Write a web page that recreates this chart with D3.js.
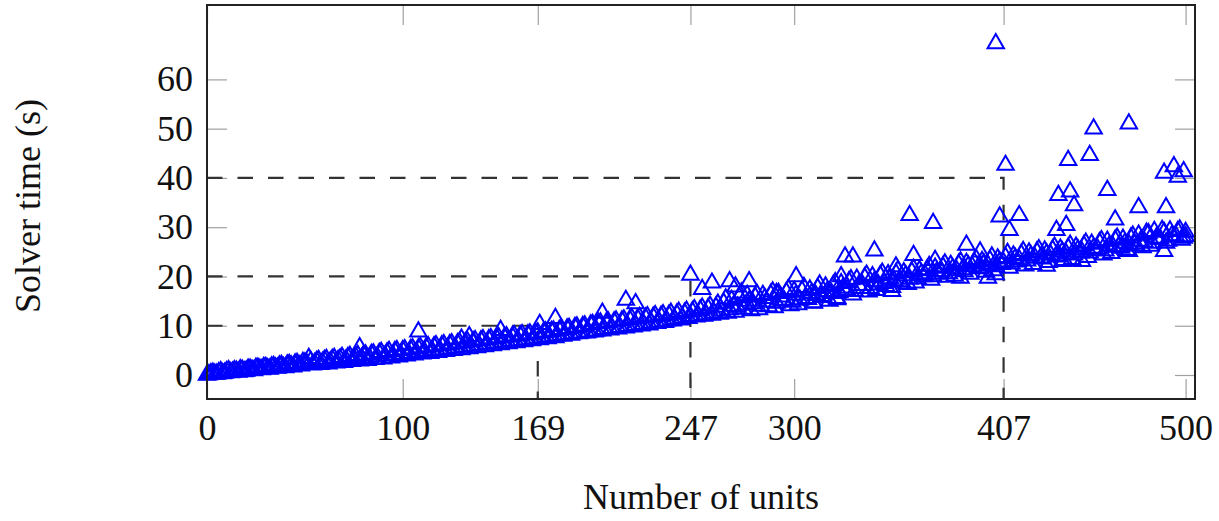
<!DOCTYPE html>
<html>
<head>
<meta charset="utf-8">
<script src="https://cdn.jsdelivr.net/npm/d3@7"></script>
<style>
  html, body { margin: 0; padding: 0; background: #fff; }
  svg { display: block; font-family: "Liberation Serif", "DejaVu Serif", serif; }
</style>
</head>
<body>
<div id="chart"></div>
<script>
// [number of units, solver time in s] — the dense main band, even sizes
const bandRuns = [
  [0,0.0],[1,0.1],[2,0.3],[4,0.2],[6,0.5],[8,0.3],[10,0.7],[12,0.5],[14,0.9],[16,0.6],[18,1.0],[20,0.8],
  [22,1.2],[24,0.9],[26,1.4],[28,1.1],[30,1.6],[32,1.2],[34,1.8],[36,1.4],[38,2.0],[40,1.5],
  [42,2.2],[44,1.7],[46,2.4],[48,1.9],[50,2.5],[52,3.4],[54,2.1],[56,2.8],[58,2.2],[60,3.0],
  [62,2.3],[64,3.2],[66,2.5],[68,3.3],[70,2.6],[72,3.6],[74,2.8],[76,3.7],[78,2.9],[80,4.0],
  [82,3.0],[84,4.2],[86,3.2],[88,4.4],[90,3.3],[92,4.5],[94,3.5],[96,4.8],[98,3.7],[100,5.0],
  [102,3.9],[104,5.2],[106,4.1],[108,5.4],[110,4.3],[112,5.6],[114,4.4],[116,5.8],[118,4.6],[120,6.0],
  [122,4.8],[124,6.2],[126,5.0],[128,6.4],[130,5.2],[132,6.6],[134,5.4],[136,6.8],[138,5.6],[140,7.0],
  [142,5.8],[144,7.2],[146,6.0],[148,7.4],[150,6.2],[152,7.6],[154,6.4],[156,7.8],[158,6.6],[160,8.0],
  [162,6.8],[164,8.2],[166,7.0],[168,8.5],[170,7.2],[172,8.7],[174,7.4],[176,8.9],[178,7.6],[180,9.1],
  [182,7.9],[184,9.4],[186,8.1],[188,9.7],[190,8.4],[192,9.9],[194,8.6],[196,10.2],[198,8.8],[200,10.5],
  [202,9.0],[204,10.6],[206,9.2],[208,10.8],[210,9.4],[212,11.0],[214,9.6],[216,11.2],[218,9.8],[220,11.4],
  [222,10.0],[224,11.6],[226,10.2],[228,11.8],[230,10.5],[232,12.0],[234,10.7],[236,12.2],[238,11.0],[240,12.4],
  [242,11.2],[244,12.6],[246,11.5],[248,12.9],[250,11.8],[252,13.2],[254,12.0],[256,13.5],[258,12.2],[260,13.8],
  [262,12.4],[264,14.6],[266,12.6],[268,15.2],[270,12.8],[272,15.8],[274,13.4],[276,16.2],[278,13.1],[280,15.9],
  [282,13.3],[284,16.2],[286,14.8],[288,16.4],[290,13.7],[292,16.6],[294,15.2],[296,16.8],[298,14.1],[300,17.0],
  [302,14.3],[304,17.1],[306,15.6],[308,17.3],[310,14.6],[312,17.6],[314,16.0],[316,17.9],[318,15.0],[320,18.2],
  [322,15.6],[324,18.6],[326,17.0],[328,19.0],[330,16.3],[332,19.5],[334,17.6],[336,19.8],[338,16.9],[340,20.0],
  [342,17.2],[344,20.2],[346,18.6],[348,20.4],[350,17.8],[352,20.6],[354,19.0],[356,20.8],[358,18.4],[360,21.0],
  [362,18.7],[364,21.2],[366,20.0],[368,21.4],[370,19.3],[372,21.7],[374,20.5],[376,22.0],[378,19.9],[380,22.3],
  [382,20.1],[384,22.5],[386,21.4],[388,22.7],[390,20.5],[392,22.9],[394,21.8],[396,23.1],[398,20.9],[400,23.3],
  [402,21.2],[404,23.6],[406,22.5],[408,23.9],[410,21.7],[412,24.2],[414,23.0],[416,24.5],[418,22.2],[420,24.8],
  [422,22.5],[424,25.0],[426,23.8],[428,25.2],[430,22.9],[432,25.4],[434,24.2],[436,25.6],[438,23.3],[440,25.8],
  [442,23.5],[444,26.0],[446,24.8],[448,26.3],[450,23.9],[452,26.6],[454,25.3],[456,26.9],[458,24.4],[460,27.2],
  [462,24.7],[464,27.4],[466,26.1],[468,27.6],[470,25.3],[472,27.8],[474,26.6],[476,28.4],[478,25.9],[480,28.8],
  [482,26.2],[484,29.2],[486,27.6],[488,29.4],[490,26.8],[492,29.3],[494,28.0],[496,29.2],[498,27.4],[500,29.0]
];

// odd sizes, same band
const bandRunsOdd = [
  [3,0.4],[5,0.2],[7,0.7],[9,0.4],[11,0.9],[13,0.6],[15,0.8],[17,1.1],[19,0.7],[21,1.2],
  [23,1.0],[25,1.4],[27,1.2],[29,1.6],[31,1.3],[33,1.7],[35,1.5],[37,1.9],[39,1.6],[41,2.1],
  [43,1.9],[45,2.3],[47,2.0],[49,2.6],[51,2.3],[53,2.8],[55,2.4],[57,3.0],[59,2.6],[61,3.2],
  [63,2.7],[65,3.4],[67,3.0],[69,3.6],[71,3.1],[73,3.8],[75,3.2],[77,4.0],[79,3.4],[81,4.1],
  [83,3.5],[85,4.3],[87,3.7],[89,4.6],[91,3.9],[93,4.8],[95,4.0],[97,5.0],[99,4.2],[101,5.2],
  [103,4.4],[105,5.4],[107,4.6],[109,5.6],[111,4.8],[113,5.8],[115,5.0],[117,6.0],[119,5.1],[121,6.2],
  [123,5.3],[125,6.4],[127,5.5],[129,6.6],[131,5.7],[133,6.8],[135,5.9],[137,7.0],[139,6.1],[141,7.2],
  [143,6.3],[145,7.4],[147,6.5],[149,7.6],[151,6.7],[153,7.8],[155,6.9],[157,8.0],[159,7.0],[161,8.2],
  [163,7.2],[165,8.4],[167,7.4],[169,8.6],[171,7.6],[173,8.8],[175,7.8],[177,9.0],[179,8.0],[181,9.3],
  [183,8.2],[185,9.5],[187,8.4],[189,9.8],[191,8.6],[193,10.0],[195,8.8],[197,10.3],[199,9.0],[201,10.6],
  [203,9.3],[205,10.8],[207,9.5],[209,11.0],[211,9.7],[213,11.2],[215,9.9],[217,11.5],[219,10.1],[221,11.7],
  [223,10.3],[225,11.9],[227,10.6],[229,12.1],[231,10.8],[233,12.3],[235,11.0],[237,12.6],[239,11.3],[241,12.8],
  [243,11.6],[245,13.0],[247,11.9],[249,13.3],[251,12.1],[253,13.6],[255,12.3],[257,14.0],[259,12.6],[261,14.4],
  [263,13.0],[265,15.5],[267,13.3],[269,14.0],[271,13.8],[273,16.7],[275,14.2],[277,15.0],[279,14.5],[281,16.4],
  [283,14.0],[285,15.6],[287,13.9],[289,16.9],[291,14.6],[293,15.9],[295,15.0],[297,17.4],[299,14.8],[301,16.3],
  [303,15.2],[305,17.8],[307,15.4],[309,16.6],[311,16.2],[313,18.3],[315,15.8],[317,17.0],[319,16.6],[321,18.8],
  [323,16.8],[325,17.7],[327,17.3],[329,19.4],[331,17.0],[333,18.2],[335,18.2],[337,20.3],[339,17.6],[341,19.0],
  [343,18.3],[345,20.7],[347,18.0],[349,19.6],[351,19.2],[353,21.2],[355,18.9],[357,20.2],[359,19.5],[361,21.5],
  [363,19.6],[365,20.6],[367,20.3],[369,22.1],[371,20.0],[373,21.0],[375,21.0],[377,22.6],[379,20.6],[381,21.6],
  [383,21.2],[385,23.0],[387,21.0],[389,22.2],[391,22.0],[393,23.5],[395,21.6],[397,22.6],[399,22.3],[401,24.0],
  [403,22.0],[405,23.0],[407,22.8],[409,24.7],[411,22.6],[413,23.7],[415,23.4],[417,25.1],[419,23.2],[421,24.2],
  [423,23.8],[425,25.5],[427,23.6],[429,24.6],[431,24.4],[433,26.0],[435,24.0],[437,25.0],[439,24.6],[441,26.4],
  [443,24.4],[445,25.4],[447,25.0],[449,26.8],[451,24.8],[453,25.8],[455,25.6],[457,27.3],[459,25.2],[461,26.2],
  [463,26.0],[465,27.8],[467,25.8],[469,26.8],[471,26.5],[473,28.2],[475,26.2],[477,27.2],[479,27.0],[481,28.7],
  [483,26.8],[485,27.8],[487,27.6],[489,29.0],[491,27.2],[493,28.3],[495,28.2],[497,29.5],[499,27.8]
];

// runs that stand out above / below the band
const outlierRuns = [
  [78,5.6],[108,8.8],[130,7.3],[134,7.8],[150,9.1],[170,10.3],[178,11.5],[202,12.6],[214,15.2],[219,14.5],
  [247,20.3],[253,17.4],[258,18.7],[267,19.0],[270,17.9],[277,19.0],[291,16.6],
  [301,20.0],[310,14.7],[322,15.3],[324,20.0],[326,24.0],[330,24.0],[341,25.2],[350,17.0],[352,22.0],
  [359,32.4],[361,24.3],[371,30.8],[372,23.3],[385,19.7],[388,26.4],[395,25.0],[399,19.7],
  [403,67.3],[403,20.4],[405,32.1],[408,42.6],[410,29.4],[415,32.4],
  [429,22.1],[434,29.4],[435,36.5],[437,23.1],[439,30.4],[440,43.6],[441,37.2],[443,34.4],[447,23.1],
  [451,44.6],[453,50.0],[460,37.5],[464,31.5],[471,51.0],[471,25.1],[476,34.0],
  [489,41.0],[489,25.1],[490,34.0],[494,42.3],[496,40.2],[499,41.3],[500,28.1]
];

const xTicks = [0, 100, 169, 247, 300, 407, 500];
const yTicks = [0, 10, 20, 30, 40, 50, 60];
// dashed guides: from the left axis to (units, seconds), then down to the x axis
const guides = [
  { units: 169, seconds: 10 },
  { units: 247, seconds: 20 },
  { units: 407, seconds: 40 }
];
const xTitle = "Number of units";
const yTitle = "Solver time (s)";

const W = 1219, H = 521;
const box = { left: 207, right: 1195, top: 5, bottom: 399 };
const fontSize = 36;

const x = d3.scaleLinear().domain([0, 504.8]).range([box.left, box.right]);
const y = d3.scaleLinear().domain([-4.87, 75.1]).range([box.bottom, box.top]);

const svg = d3.select("#chart").append("svg")
  .attr("width", W)
  .attr("height", H);

// ticks on all four sides, pointing inward
const tickLen = 20;
const styleTicks = (g) => {
  g.select(".domain").remove();
  g.selectAll(".tick line").attr("stroke", "#a0a0a0").attr("stroke-width", 1.2);
  g.selectAll(".tick text")
    .attr("fill", "#111")
    .style("font-size", fontSize + "px")
    .style("font-family", '"Liberation Serif", "DejaVu Serif", serif');
};

svg.append("g")
  .attr("transform", `translate(0,${box.bottom})`)
  .call(d3.axisBottom(x).tickValues(xTicks).tickSize(-tickLen).tickPadding(15).tickFormat(d3.format("d")))
  .call(styleTicks);

svg.append("g")
  .attr("transform", `translate(0,${box.top})`)
  .call(d3.axisTop(x).tickValues(xTicks).tickSize(-tickLen).tickFormat(""))
  .call(styleTicks);

svg.append("g")
  .attr("transform", `translate(${box.left},0)`)
  .call(d3.axisLeft(y).tickValues(yTicks).tickSize(-tickLen).tickPadding(14).tickFormat(d3.format("d")))
  .call(styleTicks);

svg.append("g")
  .attr("transform", `translate(${box.right},0)`)
  .call(d3.axisRight(y).tickValues(yTicks).tickSize(-tickLen).tickFormat(""))
  .call(styleTicks);

// dashed guide lines
const yMin = y.domain()[0];
const xMin = x.domain()[0];
const guideLine = d3.line().x(d => x(d[0])).y(d => y(d[1]));
svg.append("g")
  .selectAll("path")
  .data(guides)
  .join("path")
  .attr("d", d => guideLine([[xMin, d.seconds], [d.units, d.seconds], [d.units, yMin]]))
  .attr("fill", "none")
  .attr("stroke", "#333")
  .attr("stroke-width", 2.2)
  .attr("stroke-dasharray", "15.5,15");

// triangle marks
const tri = d3.symbol().type(d3.symbolTriangle).size(117);
svg.append("g")
  .selectAll("path")
  .data(bandRuns.concat(bandRunsOdd, outlierRuns))
  .join("path")
  .attr("transform", d => `translate(${x(d[0])},${y(d[1])})`)
  .attr("d", tri)
  .attr("fill", "none")
  .attr("stroke", "#0000ff")
  .attr("stroke-width", 2);

// frame
svg.append("rect")
  .attr("x", box.left)
  .attr("y", box.top)
  .attr("width", box.right - box.left)
  .attr("height", box.bottom - box.top)
  .attr("fill", "none")
  .attr("stroke", "#222")
  .attr("stroke-width", 2);

// axis titles
svg.append("text")
  .attr("x", (box.left + box.right) / 2)
  .attr("y", 509)
  .attr("text-anchor", "middle")
  .attr("fill", "#111")
  .style("font-size", fontSize + "px")
  .text(xTitle);

svg.append("text")
  .attr("transform", `translate(40,${(box.top + box.bottom) / 2 + 4}) rotate(-90)`)
  .attr("text-anchor", "middle")
  .attr("fill", "#111")
  .style("font-size", fontSize + "px")
  .text(yTitle);
</script>
</body>
</html>
